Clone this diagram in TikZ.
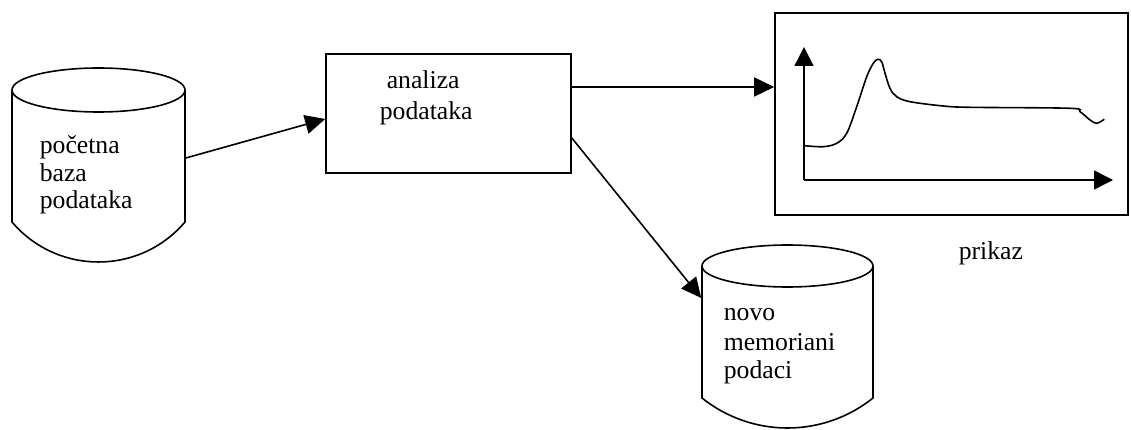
\documentclass[tikz,border=0pt]{standalone}
\usepackage{fontspec}
\setmainfont{Liberation Serif}
\usetikzlibrary{arrows.meta}
\begin{document}
\begin{tikzpicture}[x=1pt,y=-1pt,
    line width=1.6pt,
    txt/.style={font=\fontsize{25.7pt}{30pt}\selectfont, inner sep=0pt},
    body/.style={draw=none, rectangle, inner sep=0pt},
    arr/.style={-{Triangle[length=20pt,width=19pt]}},
    axis/.style={-{Triangle[length=19pt,width=19pt]}}]
\useasboundingbox (0,0) rectangle (1131,430);

% --- source database (cylinder) ---
\node[body, minimum width=173pt, minimum height=132pt] (db1) at (98.5,156) {};
\draw (98.5,90) ellipse [x radius=86.5, y radius=22];
\draw (12,90) -- (12,222)
      .. controls (57.3,275.3) and (139.7,275.3) .. (185,222) -- (185,90);
\node[txt, anchor=base west] (db1a) at (39,154) {početna};
\node[txt, anchor=base west] (db1b) at (39,182) {baza};
\node[txt, anchor=base west] (db1c) at (39,209) {podataka};

% --- processing block ---
\node[draw, rectangle, inner sep=0pt, minimum width=245pt, minimum height=119pt] (proc) at (448.5,113.5) {};
\node[txt, anchor=base west] (proca) at (386,89) {analiza};
\node[txt, anchor=base west] (procb) at (379,120) {podataka};

% --- stored result (cylinder) ---
\node[body, minimum width=171pt, minimum height=132pt] (db2) at (787.5,332) {};
\draw (787.5,266) ellipse [x radius=85.5, y radius=21];
\draw (702,266) -- (702,398)
      .. controls (752,438) and (823,438) .. (873,398) -- (873,266);
\node[txt, anchor=base west] (db2a) at (723,320) {novo};
\node[txt, anchor=base west] (db2b) at (723,350) {memoriani};
\node[txt, anchor=base west] (db2c) at (723,378) {podaci};

% --- display with a plotted signal ---
\node[draw, rectangle, inner sep=0pt, minimum width=353pt, minimum height=202pt] (disp) at (951.5,114) {};
\node[txt, anchor=base west] (disptxt) at (958,259) {prikaz};
\coordinate (o) at (804,180);
\coordinate (ytip) at (804,47);
\coordinate (xtip) at (1113,180);
\draw[axis] (o) -- (ytip);
\draw[axis] (o) -- (xtip);
\draw plot[smooth, tension=0.55] coordinates {
  (804.3,145.7) (823.3,146.7) (836.7,143.3) (846.7,133.3) (856.7,106.7)
  (866.7,76.7) (873.3,63.3) (877.7,59.3) (881.7,61.7) (885,73.3)
  (890,88.3) (896.7,96.7) (910,101.7) (943.3,106) (970,107.3)
  (1070,108.3) (1080,111.7) (1090,120) (1096.7,123.3) (1104.3,119.3)};

% --- connectors ---
\draw[arr] ([yshift=-2pt]db1.east) -- ([yshift=-5.5pt]proc.west);
\draw[arr] ([yshift=26.5pt]proc.east) -- ([yshift=26.5pt]proc.east -| disp.west);
\draw[arr] ([yshift=-24.5pt]proc.east) -- ([yshift=34pt]db2.west);
\end{tikzpicture}
\end{document}
